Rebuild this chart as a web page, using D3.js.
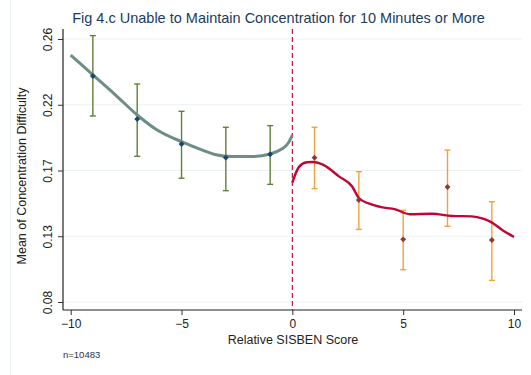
<!DOCTYPE html>
<html>
<head>
<meta charset="utf-8">
<script src="https://cdn.jsdelivr.net/npm/d3@7"></script>
<style>
  html, body { margin: 0; padding: 0; background: #fff; }
  svg { display: block; font-family: "Liberation Sans", Arial, sans-serif; }
</style>
</head>
<body>
<svg id="chart" width="531" height="375"></svg>
<script>
// Bin means with 95% confidence intervals, by relative SISBEN score
const binX      = [-9, -7, -5, -3, -1, 1, 3, 5, 7, 9];
const binMean   = [0.2347, 0.2052, 0.1881, 0.1788, 0.1811, 0.1788, 0.1498, 0.1229, 0.1587, 0.1224];
const binLow    = [0.2073, 0.1797, 0.1647, 0.1562, 0.1605, 0.1576, 0.1297, 0.1021, 0.1318, 0.0948];
const binHigh   = [0.2623, 0.2292, 0.2105, 0.1996, 0.2007, 0.1996, 0.1692, 0.1427, 0.1840, 0.1486];

// Local polynomial fit, left of the cutoff
const fitLeftX  = [-10, -9, -8, -7, -6.1, -5, -4, -3.5, -2.7, -1.9, -1, -0.5, -0.2, 0];
const fitLeftY  = [0.249, 0.2355, 0.222, 0.208, 0.1977, 0.1897, 0.1836, 0.181, 0.1795, 0.1795, 0.1813, 0.1845, 0.1885, 0.1943];

// Local polynomial fit, right of the cutoff
const fitRightX = [0, 0.15, 0.3, 0.65, 0.95, 1.4, 2.1, 2.7, 3.0, 3.6, 4.2, 4.6, 5.3, 6.3, 7.2, 8.1, 8.6, 8.95, 9.5, 10];
const fitRightY = [0.1617, 0.168, 0.1725, 0.1756, 0.1758, 0.1738, 0.166, 0.159, 0.1512, 0.1466, 0.1444, 0.1436, 0.1401, 0.1404, 0.1389, 0.1386, 0.137, 0.1348, 0.129, 0.1245];

const xTicks = [-10, -5, 0, 5, 10];
const yTicks = [0.08, 0.125, 0.17, 0.215, 0.26];
const yTickLabels = ["0.08", "0.13", "0.17", "0.22", "0.26"];

const titleText = "Fig 4.c Unable to Maintain Concentration for 10 Minutes or More";
const xTitle = "Relative SISBEN Score";
const yTitle = "Mean of Concentration Difficulty";
const noteText = "n=10483";

const svg = d3.select("#chart");
const W = 531, H = 375;
const plot = { left: 63, right: 522, top: 29, bottom: 310 };

const x = d3.scaleLinear().domain([-10, 10]).range([70.7, 514]);
const y = d3.scaleLinear().domain([0.08, 0.26]).range([302, 39]);

const grid = "#eaf2f3";
const navy = "#1a476f", maroon = "#90353b";
const forest = "#5f7f3a", orange = "#f0a140";
const teal = "#6e8e84", cranberry = "#c10534";

// faint outer region border on the left
svg.append("line")
  .attr("x1", 10.5).attr("x2", 10.5).attr("y1", 0).attr("y2", H)
  .attr("stroke", grid).attr("stroke-width", 1);

// horizontal grid lines
svg.append("g").selectAll("line").data(yTicks).join("line")
  .attr("x1", plot.left).attr("x2", plot.right)
  .attr("y1", d => y(d)).attr("y2", d => y(d))
  .attr("stroke", grid).attr("stroke-width", 1.2);

// axes
const yAxis = d3.axisLeft(y).tickValues(yTicks)
  .tickFormat((d, i) => yTickLabels[i]).tickSize(5).tickPadding(5);
const gy = svg.append("g").attr("transform", `translate(${plot.left},0)`).call(yAxis);
gy.select(".domain").remove();
gy.append("line").attr("x1", 0).attr("x2", 0).attr("y1", plot.top).attr("y2", plot.bottom)
  .attr("stroke", "#222").attr("stroke-width", 1.2);
gy.selectAll(".tick line").attr("stroke", "#333");
gy.selectAll(".tick text")
  .attr("font-size", 12).attr("fill", "#222")
  .attr("text-anchor", "middle")
  .attr("x", 0).attr("y", 0).attr("dy", 0)
  .attr("transform", "translate(-11,0) rotate(-90)");

const xAxis = d3.axisBottom(x).tickValues(xTicks).tickSize(5).tickPadding(4);
const gx = svg.append("g").attr("transform", `translate(0,${plot.bottom})`).call(xAxis);
gx.select(".domain").remove();
gx.append("line").attr("x1", plot.left).attr("x2", plot.right).attr("y1", 0).attr("y2", 0)
  .attr("stroke", "#222").attr("stroke-width", 1.2);
gx.selectAll(".tick line").attr("stroke", "#333");
gx.selectAll(".tick text").attr("font-size", 12).attr("fill", "#222");

// cutoff line
svg.append("line")
  .attr("x1", x(0)).attr("x2", x(0)).attr("y1", plot.top).attr("y2", plot.bottom)
  .attr("stroke", cranberry).attr("stroke-width", 1.1).attr("stroke-dasharray", "5,3");

// error bars
const bins = binX.map((d, i) => ({ x: d, m: binMean[i], lo: binLow[i], hi: binHigh[i] }));
const eb = svg.append("g").selectAll("g").data(bins).join("g")
  .attr("stroke", d => d.x < 0 ? forest : orange).attr("stroke-width", 1.4);
eb.append("line").attr("x1", d => x(d.x)).attr("x2", d => x(d.x))
  .attr("y1", d => y(d.lo)).attr("y2", d => y(d.hi));
eb.append("line").attr("x1", d => x(d.x) - 3).attr("x2", d => x(d.x) + 3)
  .attr("y1", d => y(d.lo)).attr("y2", d => y(d.lo));
eb.append("line").attr("x1", d => x(d.x) - 3).attr("x2", d => x(d.x) + 3)
  .attr("y1", d => y(d.hi)).attr("y2", d => y(d.hi));

// fitted curves
const line = d3.line().x(d => x(d[0])).y(d => y(d[1])).curve(d3.curveMonotoneX);
svg.append("path").datum(fitLeftX.map((d, i) => [d, fitLeftY[i]]))
  .attr("d", line).attr("fill", "none").attr("stroke", teal).attr("stroke-width", 3);
svg.append("path").datum(fitRightX.map((d, i) => [d, fitRightY[i]]))
  .attr("d", line).attr("fill", "none").attr("stroke", cranberry).attr("stroke-width", 2.4);

// bin-mean markers
const diamond = d3.symbol().type(d3.symbolDiamond2).size(22);
svg.append("g").selectAll("path").data(bins).join("path")
  .attr("d", diamond)
  .attr("transform", d => `translate(${x(d.x)},${y(d.m)})`)
  .attr("fill", d => d.x < 0 ? navy : maroon);

// titles
svg.append("text").attr("x", 278.5).attr("y", 22.5).attr("text-anchor", "middle")
  .attr("font-size", 14.5).attr("fill", "#1e3a5c").text(titleText);
svg.append("text").attr("x", (plot.left + plot.right) / 2 + 0.5).attr("y", 343.5)
  .attr("text-anchor", "middle").attr("font-size", 12.5).attr("fill", "#222").text(xTitle);
svg.append("text").attr("transform", "translate(26,176) rotate(-90)")
  .attr("text-anchor", "middle").attr("font-size", 12.5).attr("fill", "#222").text(yTitle);
svg.append("text").attr("x", 63).attr("y", 358)
  .attr("font-size", 9.5).attr("fill", "#2a3444").text(noteText);
</script>
</body>
</html>
